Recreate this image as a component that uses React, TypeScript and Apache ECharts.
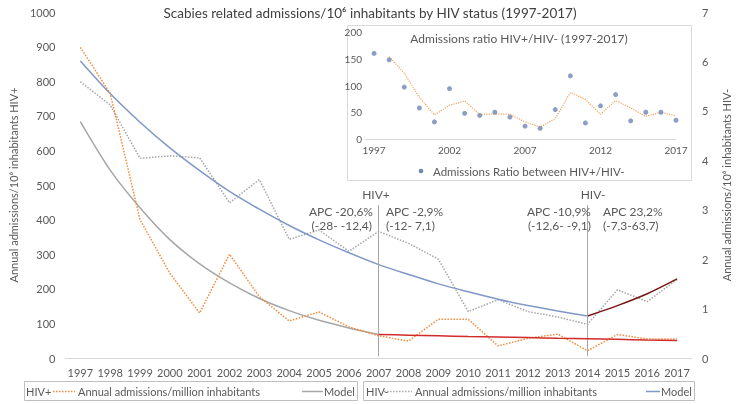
import React, { useEffect, useRef } from 'react';
import * as echarts from 'echarts';

const years = ['1997','1998','1999','2000','2001','2002','2003','2004','2005','2006','2007','2008','2009','2010','2011','2012','2013','2014','2015','2016','2017'];

// HIV+ (left axis, admissions / 10^6 inhabitants)
const hivPosAnnual = [898, 765, 400, 245, 130, 300, 177, 107, 133, 90, 64, 49, 112, 112, 35, 57, 69, 21, 68, 55, 55];
const hivPosModelEarly = [683, 543, 434, 342, 272, 217, 172, 137, 109, 87, 68, null, null, null, null, null, null, null, null, null, null];
const hivPosModelLate = [null, null, null, null, null, null, null, null, null, null, 68, 66, 64, 62, 60.5, 59, 57, 55.5, 54, 52, 50.5];

// HIV- (right axis)
const hivNegAnnual = [5.59, 5.12, 4.04, 4.09, 4.05, 3.14, 3.61, 2.40, 2.59, 2.16, 2.56, 2.32, 2.00, 0.94, 1.18, 0.94, 0.83, 0.68, 1.38, 1.14, 1.59];
const hivNegModelEarly = [6.01, 5.35, 4.77, 4.25, 3.79, 3.37, 3.01, 2.68, 2.39, 2.13, 1.89, 1.69, 1.50, 1.34, 1.19, 1.06, 0.95, 0.85, null, null, null];
const hivNegModelLate = [null, null, null, null, null, null, null, null, null, null, null, null, null, null, null, null, null, 0.85, 1.06, 1.30, 1.60];

// Inset: ratio HIV+/HIV-
const ratioYears = [1997, 1998, 1999, 2000, 2001, 2002, 2003, 2004, 2005, 2006, 2007, 2008, 2009, 2010, 2011, 2012, 2013, 2014, 2015, 2016, 2017];
const ratioValues = [160, 148, 97, 58, 32, 94, 48, 44, 50, 41, 24, 20, 55, 118, 30, 62, 83, 34, 50, 50, 35];
const ratioTrend = [null, 154, 123, 78, 45, 63, 71, 46, 47, 46, 32, 22, 38, 87, 74, 46, 72, 58, 42, 50, 43];
const insetTickYears = [1997, 2002, 2007, 2012, 2017];

const leftTicks = { min: 0, max: 1000, interval: 100 };
const rightTicks = { min: 0, max: 7, interval: 1 };

const FONT = 'Lato, "Open Sans", sans-serif';
const LABEL = '#595959';
const ORANGE = '#f28a3c';
const ORANGE_LIGHT = '#f5a35c';
const GREY = '#a6a6a6';
const BLUE = '#7f98c6';
const RED = '#d22b2b';
const DARKRED = '#7a1616';

function txt(text: string, x: number, y: number, align: string, size = 12, color = LABEL) {
  return {
    type: 'text',
    x,
    y,
    z: 10,
    style: { text, fill: color, font: `${size}px ${FONT}`, align, verticalAlign: 'middle' },
  };
}

export default function App() {
  const ref = useRef<HTMLDivElement>(null);
  useEffect(() => {
    const chart = echarts.init(ref.current!, null, { renderer: 'svg' });
    const option: any = {
      animation: false,
      textStyle: { fontFamily: FONT },
      title: {
        text: 'Scabies related admissions/10\u2076 inhabitants by HIV status (1997-2017)',
        left: 'center',
        top: 1,
        textStyle: { fontSize: 13.5, fontWeight: 'normal', color: '#404040', fontFamily: FONT },
      },
      grid: [
        { left: 47, right: 37, top: 12, bottom: 46 },
        { left: 365, right: 64, top: 32, bottom: 265 },
      ],
      xAxis: [
        {
          type: 'category',
          gridIndex: 0,
          data: years,
          boundaryGap: true,
          axisLine: { lineStyle: { color: '#d9d9d9' } },
          axisTick: { show: false },
          axisLabel: { color: LABEL, fontSize: 11, margin: 9, interval: 0 },
        },
        {
          type: 'value',
          gridIndex: 1,
          min: 1996.4,
          max: 2017,
          axisLine: { show: true, lineStyle: { color: '#d9d9d9' } },
          axisTick: { show: false },
          splitLine: { show: false },
          axisLabel: { color: LABEL, fontSize: 10, margin: 6, customValues: insetTickYears, formatter: (v: number) => String(Math.round(v)) },
        },
      ],
      yAxis: [
        {
          type: 'value',
          gridIndex: 0,
          ...leftTicks,
          name: 'Annual admissions/10\u2076 inhabitants HIV+',
          nameLocation: 'middle',
          nameGap: 38,
          nameTextStyle: { color: LABEL, fontSize: 11 },
          axisLine: { show: false },
          axisTick: { show: false },
          splitLine: { show: false },
          axisLabel: { color: LABEL, fontSize: 11, margin: 10, formatter: (v: number) => String(v) },
        },
        {
          type: 'value',
          gridIndex: 0,
          position: 'right',
          ...rightTicks,
          name: 'Annual admissions/10\u2076 inhabitants HIV-',
          nameLocation: 'middle',
          nameGap: 29,
          nameTextStyle: { color: LABEL, fontSize: 11 },
          axisLine: { show: false },
          axisTick: { show: false },
          splitLine: { show: false },
          axisLabel: { color: LABEL, fontSize: 11, margin: 10 },
        },
        {
          type: 'value',
          gridIndex: 1,
          min: 0,
          max: 200,
          interval: 50,
          axisLine: { show: false },
          axisTick: { show: false },
          splitLine: { show: false },
          axisLabel: { color: LABEL, fontSize: 10, margin: 3 },
        },
      ],
      series: [
        {
          name: 'HIV- annual',
          type: 'line',
          xAxisIndex: 0,
          yAxisIndex: 1,
          data: hivNegAnnual,
          symbol: 'none',
          lineStyle: { color: GREY, width: 1.5, type: 'dotted' },
          z: 2,
        },
        {
          name: 'HIV- model',
          type: 'line',
          xAxisIndex: 0,
          yAxisIndex: 1,
          data: hivNegModelEarly,
          symbol: 'none',
          smooth: 0.3,
          lineStyle: { color: BLUE, width: 1.5 },
          z: 3,
        },
        {
          name: 'HIV- model late',
          type: 'line',
          xAxisIndex: 0,
          yAxisIndex: 1,
          data: hivNegModelLate,
          symbol: 'none',
          smooth: 0.3,
          lineStyle: { color: DARKRED, width: 1.5 },
          z: 3,
        },
        {
          name: 'HIV+ annual',
          type: 'line',
          xAxisIndex: 0,
          yAxisIndex: 0,
          data: hivPosAnnual,
          symbol: 'none',
          lineStyle: { color: ORANGE, width: 1.5, type: 'dotted' },
          z: 4,
          markLine: {
            silent: true,
            symbol: 'none',
            label: { show: false },
            lineStyle: { color: GREY, width: 1, type: 'solid' },
            data: [
              [{ xAxis: '2007', yAxis: 442 }, { xAxis: '2007', yAxis: 5 }],
              [{ xAxis: '2014', yAxis: 442 }, { xAxis: '2014', yAxis: 5 }],
            ],
          },
        },
        {
          name: 'HIV+ model',
          type: 'line',
          xAxisIndex: 0,
          yAxisIndex: 0,
          data: hivPosModelEarly,
          symbol: 'none',
          smooth: 0.3,
          lineStyle: { color: GREY, width: 1.5 },
          z: 3,
        },
        {
          name: 'HIV+ model late',
          type: 'line',
          xAxisIndex: 0,
          yAxisIndex: 0,
          data: hivPosModelLate,
          symbol: 'none',
          smooth: 0.3,
          lineStyle: { color: RED, width: 1.5 },
          z: 5,
        },
        {
          name: 'Ratio',
          type: 'scatter',
          xAxisIndex: 1,
          yAxisIndex: 2,
          data: ratioYears.map((y, i) => [y, ratioValues[i]]),
          symbolSize: 5,
          itemStyle: { color: '#6f86b6' },
          z: 6,
        },
        {
          name: 'Ratio trend',
          type: 'line',
          xAxisIndex: 1,
          yAxisIndex: 2,
          data: ratioYears.map((y, i) => [y, ratioTrend[i]]),
          symbol: 'none',
          connectNulls: false,
          lineStyle: { color: ORANGE_LIGHT, width: 1.2, type: 'dotted' },
          z: 6,
        },
      ],
      graphic: [
        { type: 'rect', z: 0, shape: { x: 347.5, y: 25.5, width: 344, height: 155 }, style: { fill: '#ffffff', stroke: '#d9d9d9', lineWidth: 1 } },
        txt('Admissions ratio HIV+/HIV- (1997-2017)', 519, 38, 'center', 12),
        { type: 'circle', z: 10, shape: { cx: 421, cy: 171, r: 2.3 }, style: { fill: '#6f86b6' } },
        txt('Admissions Ratio between HIV+/HIV-', 433, 171, 'left', 11.5),
        // annotations
        txt('HIV+', 376, 194, 'center', 12),
        txt('APC -20,6%', 373, 211, 'right', 12),
        txt('(-28- -12,4)', 372, 225, 'right', 12),
        txt('APC -2,9%', 386, 211, 'left', 12),
        txt('(-12- 7,1)', 386, 225, 'left', 12),
        txt('HIV-', 593, 194, 'center', 12),
        txt('APC -10,9%', 591, 211, 'right', 12),
        txt('(-12,6- -9,1)', 591, 225, 'right', 12),
        txt('APC 23,2%', 603, 211, 'left', 12),
        txt('(-7,3-63,7)', 603, 225, 'left', 12),
        // legend box 1
        { type: 'rect', z: 0, shape: { x: 24.5, y: 381.5, width: 333, height: 19 }, style: { fill: '#fff', stroke: '#bfbfbf', lineWidth: 1 } },
        txt('HIV+', 26, 391.5, 'left', 11),
        { type: 'line', z: 10, shape: { x1: 53, y1: 391.5, x2: 75, y2: 391.5 }, style: { stroke: ORANGE, lineWidth: 1.5, lineDash: [1.5, 1.5] } },
        txt('Annual admissions/million inhabitants', 78, 391.5, 'left', 11),
        { type: 'line', z: 10, shape: { x1: 302, y1: 391.5, x2: 323, y2: 391.5 }, style: { stroke: GREY, lineWidth: 1.5 } },
        txt('Model', 324, 391.5, 'left', 11),
        // legend box 2
        { type: 'rect', z: 0, shape: { x: 363.5, y: 381.5, width: 331, height: 19 }, style: { fill: '#fff', stroke: '#bfbfbf', lineWidth: 1 } },
        txt('HIV-', 366, 391.5, 'left', 11),
        { type: 'line', z: 10, shape: { x1: 384, y1: 391.5, x2: 412, y2: 391.5 }, style: { stroke: GREY, lineWidth: 1.5, lineDash: [1.5, 1.5] } },
        txt('Annual admissions/million inhabitants', 415, 391.5, 'left', 11),
        { type: 'line', z: 10, shape: { x1: 646, y1: 391.5, x2: 660, y2: 391.5 }, style: { stroke: BLUE, lineWidth: 1.5 } },
        txt('Model', 661, 391.5, 'left', 11),
      ],
    };
    chart.setOption(option);
    return () => chart.dispose();
  }, []);
  return <div ref={ref} style={{ position: 'fixed', left: 0, top: 0, width: 740, height: 404 }} />;
}
